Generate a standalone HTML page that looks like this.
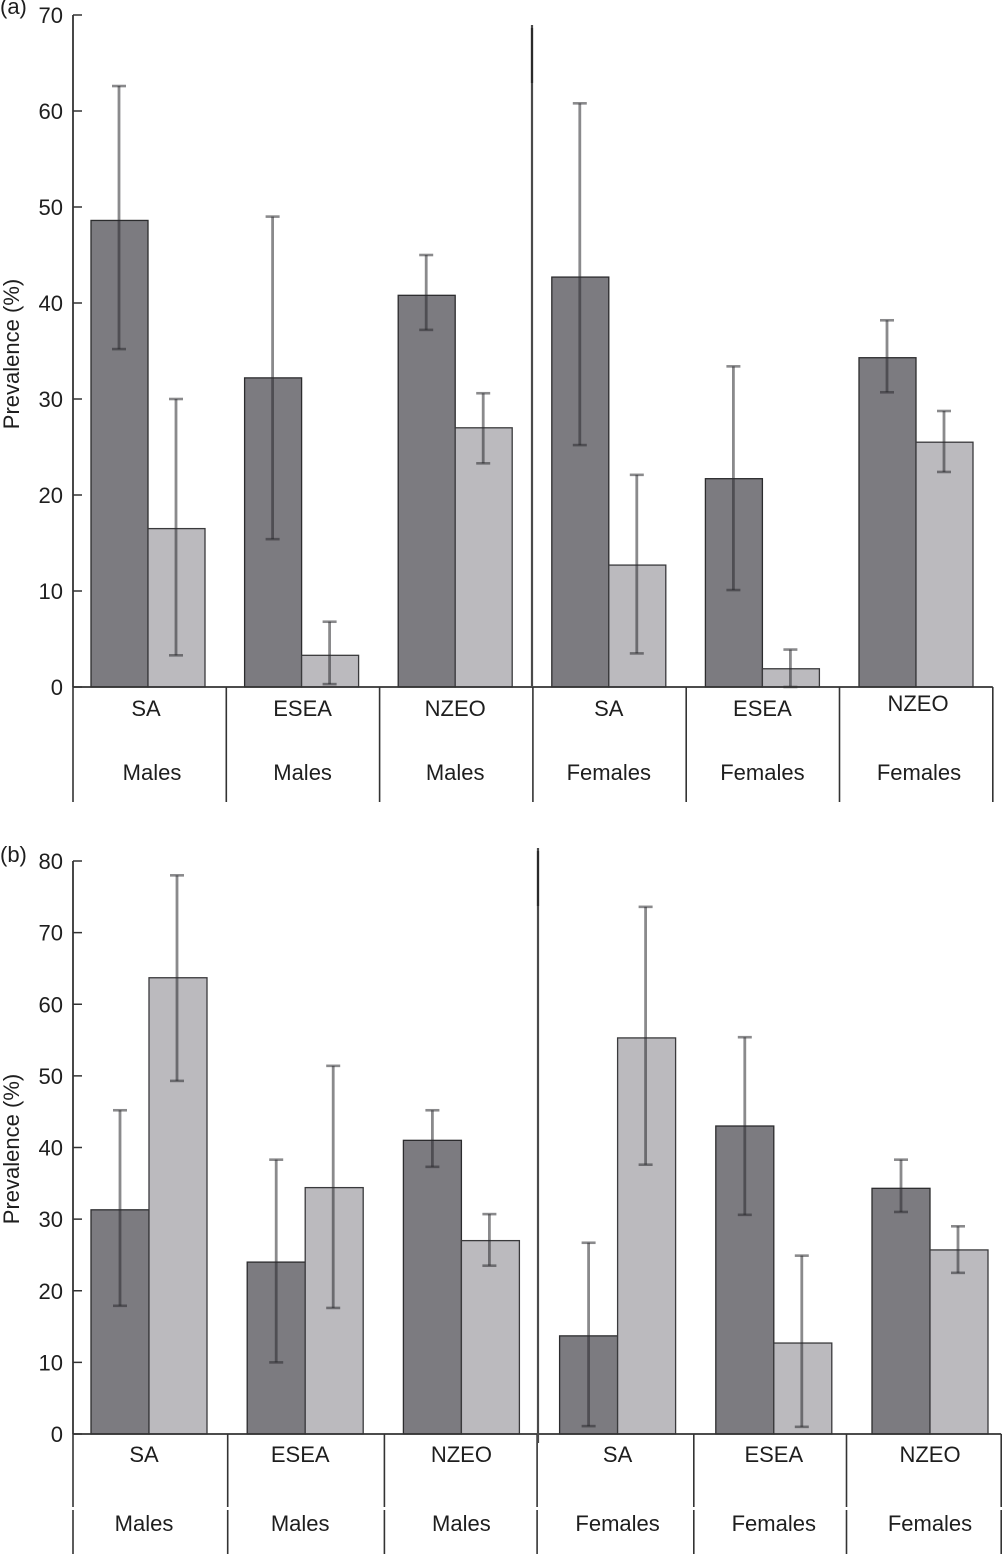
<!DOCTYPE html>
<html lang="en">
<head>
<meta charset="utf-8">
<title>Prevalence by ethnic group and sex</title>
<style>
html,body{margin:0;padding:0;background:#fff;width:1008px;height:1554px;overflow:hidden}
svg{display:block;font-family:"Liberation Sans",sans-serif;fill:#1e1e1e}
text{font-size:22px}
</style>
</head>
<body>
<svg id="chart" width="1008" height="1554" viewBox="0 0 1008 1554" xmlns="http://www.w3.org/2000/svg"></svg>
<script>
const groups = ['SA', 'ESEA', 'NZEO', 'SA', 'ESEA', 'NZEO'];
const sexes = ['Males', 'Males', 'Males', 'Females', 'Females', 'Females'];

const ticksA = [0, 10, 20, 30, 40, 50, 60, 70];
const darkA = [48.6, 32.2, 40.8, 42.7, 21.7, 34.3];
const lightA = [16.5, 3.3, 27, 12.7, 1.9, 25.5];
const darkHighA = [62.6, 49.0, 45, 60.8, 33.4, 38.2];
const darkLowA = [35.2, 15.4, 37.2, 25.2, 10.1, 30.7];
const lightHighA = [30, 6.8, 30.6, 22.1, 3.9, 28.75];
const lightLowA = [3.3, 0.3, 23.3, 3.5, 0, 22.4];

const ticksB = [0, 10, 20, 30, 40, 50, 60, 70, 80];
const darkB = [31.3, 24, 41, 13.7, 43, 34.3];
const lightB = [63.7, 34.4, 27, 55.3, 12.7, 25.7];
const darkHighB = [45.2, 38.3, 45.2, 26.7, 55.4, 38.3];
const darkLowB = [17.9, 10, 37.3, 1.1, 30.6, 31];
const lightHighB = [78, 51.4, 30.7, 73.6, 24.9, 29];
const lightLowB = [49.3, 17.6, 23.5, 37.6, 1, 22.5];

const svg = document.getElementById('chart');
const NS = 'http://www.w3.org/2000/svg';

function add(tag, attrs, name, text) {
  const el = document.createElementNS(NS, tag);
  for (const k in attrs) el.setAttribute(k, attrs[k]);
  
  
  if (text !== undefined) el.textContent = text;
  svg.appendChild(el);
  return el;
}

function line(x1, y1, x2, y2, stroke, width, name, opacity) {
  const attrs = {x1: x1, y1: y1, x2: x2, y2: y2, stroke: stroke, 'stroke-width': width};
  if (opacity !== undefined) attrs['stroke-opacity'] = opacity;
  return add('line', attrs, name);
}

function drawPanel(p) {
  const y = v => p.y0 - v * p.unit;
  const mid = i => p.midStart + i * p.midStep;
  const div = i => p.axisX + i * p.divStep + ((p.id === 'b' && (i === 2 || i === 4)) ? 2 : 0);
  const prefix = p.id + '-';

  add('text', {x: 0, y: p.letterY}, prefix + 'panel-label', '(' + p.id + ')');

  p.ticks.forEach(t => {
    line(p.axisX, y(t), p.axisX + 9, y(t), '#333', 1.5, prefix + 'y-tick-' + t);
    add('text', {x: p.axisX - 10, y: y(t) + 8, 'text-anchor': 'end'}, prefix + 'y-tick-label-' + t, t);
  });

  const titleY = p.titleCenter;
  add('text', {x: 19, y: titleY, 'text-anchor': 'middle',
    transform: 'rotate(-90 19 ' + titleY + ')'}, prefix + 'y-axis-title', 'Prevalence (%)');

  groups.forEach((g, i) => {
    const m = mid(i);
    const key = prefix + sexes[i].toLowerCase() + '-' + g.toLowerCase();
    add('rect', {x: m - p.barW, y: y(p.dark[i]), width: p.barW, height: p.y0 - y(p.dark[i]),
      fill: '#7c7b80', stroke: '#2c2c2e', 'stroke-width': 1.3}, 'bar-dark-' + key);
    add('rect', {x: m, y: y(p.light[i]), width: p.barW, height: p.y0 - y(p.light[i]),
      fill: '#bbbabe', stroke: '#3a3a3c', 'stroke-width': 1.3}, 'bar-light-' + key);
  });

  groups.forEach((g, i) => {
    const m = mid(i);
    const key = prefix + sexes[i].toLowerCase() + '-' + g.toLowerCase();
    [[m - 29, p.darkHigh[i], p.darkLow[i], 'dark'], [m + 28, p.lightHigh[i], p.lightLow[i], 'light']].forEach(e => {
      const col = '#2a2a2e';
      line(e[0], y(e[1]), e[0], y(e[2]), col, 2.8, 'error-bar-' + e[3] + '-' + key, 0.55);
      line(e[0] - 7, y(e[1]), e[0] + 7, y(e[1]), col, 2.6, 'error-cap-high-' + e[3] + '-' + key, 0.55);
      line(e[0] - 7, y(e[2]), e[0] + 7, y(e[2]), col, 2.6, 'error-cap-low-' + e[3] + '-' + key, 0.55);
    });
  });

  line(p.axisX, p.axisTop, p.axisX, p.y0, '#333', 1.8, prefix + 'y-axis');
  line(p.axisX, p.y0, div(6), p.y0, '#333', 1.8, prefix + 'x-axis');

  for (let i = 0; i <= 6; i++) {
    if (p.rowGap) {
      line(div(i), p.y0, div(i), p.rowGap - 1, '#333', 1.6, prefix + 'category-divider-upper-' + i);
      line(div(i), p.rowGap + 2, div(i), p.bottom, '#333', 1.6, prefix + 'category-divider-lower-' + i);
    } else {
      line(div(i), p.y0, div(i), p.bottom, '#333', 1.6, prefix + 'category-divider-' + i);
    }
  }

  line(p.sepX, p.sepTop, p.sepX, p.sepBottom, '#4a4a4a', 2.2, prefix + 'sex-separator');
  line(p.sepX, p.sepTop + 3, p.sepX, p.sepTop + 58, '#2a2a2a', 2.2, prefix + 'sex-separator-dark-top');

  groups.forEach((g, i) => {
    const m = mid(i);
    let groupDx = 0;
    let sexDx = 0;
    if (p.id === 'a' && i === 0) { groupDx = -2; sexDx = 4; }
    if (p.id === 'a' && i === 1) { groupDx = 1; sexDx = 1; }
    if (p.id === 'a' && i === 5) { groupDx = 2; sexDx = 3; }
    if (p.id === 'b' && i === 0) { groupDx = -5; sexDx = -5; }
    if (p.id === 'b' && i === 1) { groupDx = -5; sexDx = -5; }
    const groupDy = (p.id === 'a' && i === 5) ? -5 : 0;
    add('text', {x: m + groupDx, y: p.groupY + groupDy, 'text-anchor': 'middle'}, prefix + 'group-label-' + i, g);
    add('text', {x: m + sexDx, y: p.sexY, 'text-anchor': 'middle'}, prefix + 'sex-label-' + i, sexes[i]);
  });
}

drawPanel({
  id: 'a', y0: 687, unit: 9.6, axisX: 73, axisTop: 15, bottom: 802,
  midStart: 148, midStep: 153.6, divStep: 153.3, barW: 57,
  ticks: ticksA, dark: darkA, light: lightA,
  darkHigh: darkHighA, darkLow: darkLowA, lightHigh: lightHighA, lightLow: lightLowA,
  sepX: 532, sepTop: 25, sepBottom: 687,
  groupY: 716, sexY: 780, letterY: 14, titleCenter: 354, rowGap: 0
});

drawPanel({
  id: 'b', y0: 1434, unit: 7.1625, axisX: 73, axisTop: 861, bottom: 1554,
  midStart: 149, midStep: 156.2, divStep: 154.7, barW: 58,
  ticks: ticksB, dark: darkB, light: lightB,
  darkHigh: darkHighB, darkLow: darkLowB, lightHigh: lightHighB, lightLow: lightLowB,
  sepX: 538, sepTop: 848, sepBottom: 1443,
  groupY: 1462, sexY: 1531, letterY: 862, titleCenter: 1149, rowGap: 1508
});
</script>
</body>
</html>
